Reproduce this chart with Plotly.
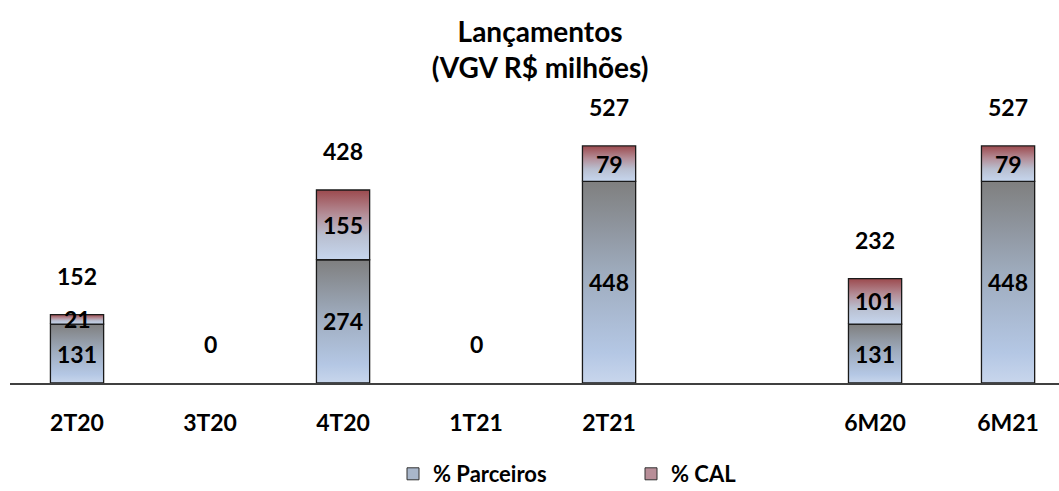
import plotly.graph_objects as go

categories = ["2T20", "3T20", "4T20", "1T21", "2T21", "6M20", "6M21"]
parceiros = [131, 0, 274, 0, 448, 131, 448]
cal = [21, 0, 155, 0, 79, 101, 79]
totals = [152, 0, 428, 0, 527, 232, 527]
series_names = ["% Parceiros", "% CAL"]

FONT = "Lato, 'Open Sans', 'Liberation Sans', sans-serif"
# leave an empty slot between quarterly and semester groups
xpos = [i if i < 5 else i + 1 for i in range(len(categories))]
half = 0.2

scales = {
    "% Parceiros": [[0, "#c8d6ec"], [0.15, "#b4c7e4"], [0.55, "#9eabbd"], [1, "#7f7f7f"]],
    "% CAL": [[0, "#c6d6ee"], [0.35, "#b9bfd0"], [0.65, "#b48e98"], [1, "#9c4a4e"]],
}
legend_colors = {"% Parceiros": "#a8b6ca", "% CAL": "#b88e98"}

fig = go.Figure()

for name, vals, bases in [
    ("% Parceiros", parceiros, [0] * len(parceiros)),
    ("% CAL", cal, parceiros),
]:
    for x, v, b in zip(xpos, vals, bases):
        if v <= 0:
            continue
        fig.add_trace(go.Scatter(
            x=[x - half, x + half, x + half, x - half, x - half],
            y=[b, b, b + v, b + v, b],
            mode="lines",
            fill="toself",
            fillgradient=dict(type="vertical", colorscale=scales[name]),
            line=dict(color="#1a1a1a", width=1.3),
            showlegend=False,
            hoverinfo="skip",
        ))
        fig.add_annotation(
            x=x, y=b + v / 2, text=f"<b>{v}</b>", showarrow=False,
            font=dict(family=FONT, size=23, color="#000000"),
        )

for x, t in zip(xpos, totals):
    fig.add_annotation(
        x=x, y=t, text=f"<b>{t}</b>", showarrow=False, yshift=39,
        font=dict(family=FONT, size=23, color="#000000"),
    )

# legend-only entries
for name in series_names:
    fig.add_trace(go.Bar(
        x=[None], y=[None], name=f"<b>{name}</b>",
        marker=dict(color=legend_colors[name], line=dict(color="#303030", width=1)),
    ))

fig.update_layout(
    width=1059, height=491,
    margin=dict(l=10, r=0, t=60, b=108),
    paper_bgcolor="white", plot_bgcolor="white",
    title=dict(
        text="<b>Lançamentos<br>(VGV R$ milhões)</b>",
        x=0.51, xref="container", xanchor="center",
        y=1 - 42 / 491, yref="container", yanchor="top",
        font=dict(family=FONT, size=28, color="#000000"),
    ),
    xaxis=dict(
        range=[-0.504, 7.383],
        tickvals=xpos, ticktext=[f"<b>{c}</b>" for c in categories],
        tickfont=dict(family=FONT, size=23, color="#000000"),
        showline=True, linecolor="#404040", linewidth=2,
        showgrid=False, zeroline=False, ticks="",
        ticklabelstandoff=18,
    ),
    yaxis=dict(range=[0, 718], visible=False, showgrid=False, zeroline=False),
    showlegend=True,
    legend=dict(
        orientation="h", x=(393 - 10) / 1049, xanchor="left",
        y=1 - 474 / 491, yref="container", yanchor="middle",
        entrywidth=193,
        font=dict(family=FONT, size=22, color="#000000"),
        traceorder="normal",
    ),
)

fig.write_html(
    "out.html",
    config={"displayModeBar": False},
    post_script="document.body.style.margin='0';document.body.style.overflow='hidden';",
)
